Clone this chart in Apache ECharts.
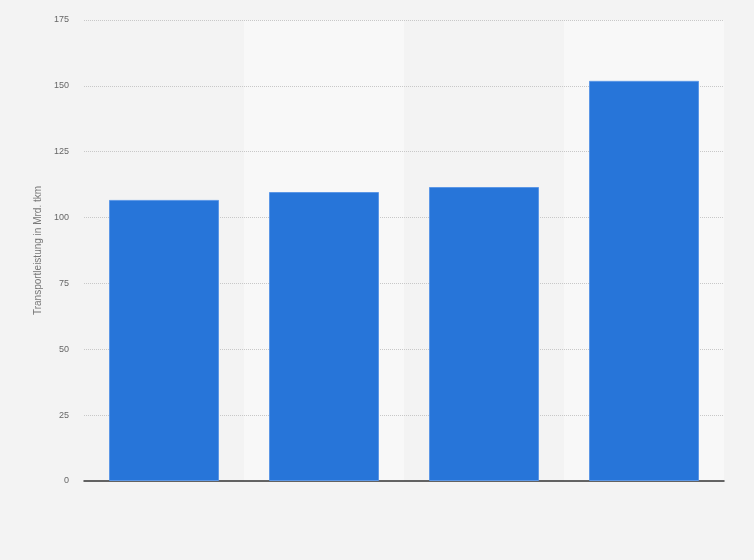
<!DOCTYPE html>
<html>
<head>
<meta charset="utf-8">
<script src="https://cdn.jsdelivr.net/npm/echarts@6/dist/echarts.min.js"></script>
<style>
html,body{margin:0;padding:0;background:#f3f3f3;}
#chart{width:754px;height:560px;}
</style>
</head>
<body>
<div id="chart"></div>
<script>
const categories = ['1', '2', '3', '4'];
const values = [106.7, 109.7, 111.6, 151.9];
const yTicks = [0, 25, 50, 75, 100, 125, 150, 175];
const yAxisTitle = 'Transportleistung in Mrd. tkm';

const chart = echarts.init(document.getElementById('chart'));
chart.setOption({
  backgroundColor: '#f3f3f3',
  animation: false,
  grid: {left: 84, right: 30, top: 20, bottom: 79},
  xAxis: {
    type: 'category',
    data: categories,
    z: 0,
    axisLine: {lineStyle: {color: '#333', width: 1.5}},
    axisTick: {show: false},
    axisLabel: {show: false},
    splitArea: {show: true, areaStyle: {color: ['rgba(0,0,0,0)', '#f8f8f8']}}
  },
  yAxis: {
    type: 'value',
    z: 1,
    min: yTicks[0],
    max: yTicks[yTicks.length - 1],
    interval: 25,
    name: yAxisTitle,
    nameLocation: 'middle',
    nameGap: 40,
    nameTextStyle: {color: '#777', fontSize: 10, fontFamily: 'Liberation Sans'},
    axisLine: {show: false},
    axisTick: {show: false},
    axisLabel: {color: '#666', fontSize: 9, fontFamily: 'Liberation Sans', margin: 15},
    splitLine: {showMinLine: false, lineStyle: {color: '#c8c8c8', type: [1, 1], width: 1}}
  },
  series: [{
    type: 'bar',
    data: values,
    barWidth: 110,
    z: 2,
    itemStyle: {color: '#2775d9', borderColor: '#5c97e6', borderWidth: 1}
  }]
});
</script>
</body>
</html>
